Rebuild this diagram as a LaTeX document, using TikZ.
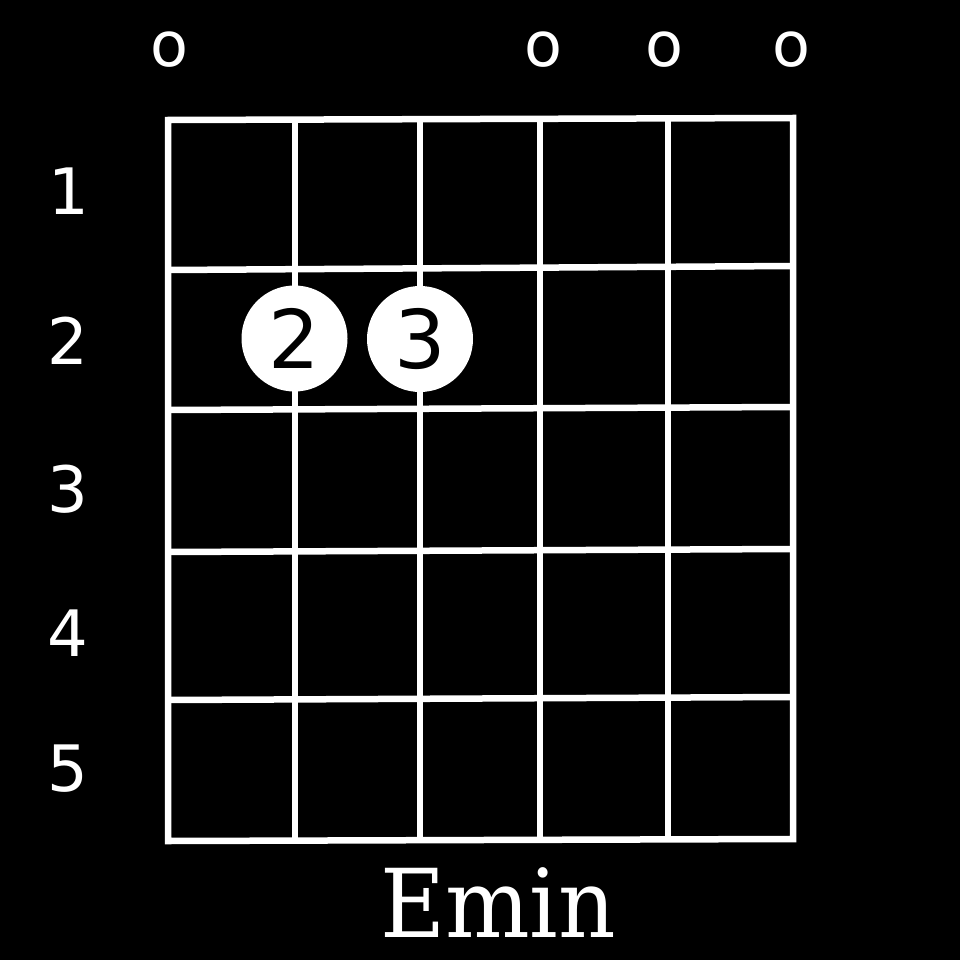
\documentclass[tikz,border=0pt]{standalone}
\usepackage{fontspec}
\setmainfont{DejaVu Sans}
\newfontfamily\chordfont{DejaVu Serif}
\begin{document}
\begin{tikzpicture}[x=1pt,y=-1pt,
  gridline/.style={white, line width=6.5pt},
  fretlabel/.style={text=white, font=\fontsize{64}{64}\selectfont, inner sep=0pt},
  openmark/.style={text=white, font=\fontsize{62}{62}\selectfont, inner sep=0pt},
  finger/.style={circle, fill=white, minimum size=106pt, inner sep=0pt, text=black, font=\fontsize{81}{81}\selectfont},
  chordname/.style={text=white, font=\chordfont\fontsize{95}{95}\selectfont, inner sep=0pt, anchor=base, xscale=0.94},
]
\fill[black] (0,0) rectangle (960,960);
\useasboundingbox (0,0) rectangle (960,960);
% frets
\draw[gridline] (168,270) -- (793,266);
\draw[gridline] (168,410) -- (793,407);
\draw[gridline] (168,552) -- (793,549);
\draw[gridline] (168,700) -- (793,697);
% strings
\draw[gridline] (295,120) -- (295,840);
\draw[gridline] (420,119) -- (420,840);
\draw[gridline] (540,119) -- (540,840);
\draw[gridline] (668,118) -- (668,839);
% outline
\draw[gridline, line join=miter] (168,120) -- (793,118) -- (793,839) -- (168,841) -- cycle;
% fingers
\node[finger] (f2) at (294.5,338.5) {2};
\node[finger] (f3) at (420,339) {3};
% open strings
\node[openmark] (o1) at (169,49.5) {o};
\node[openmark] (o4) at (543,49.5) {o};
\node[openmark] (o5) at (664,49.5) {o};
\node[openmark] (o6) at (791,49.5) {o};
% fret numbers
\node[fretlabel] (n1) at (69,191.5) {1};
\node[fretlabel] (n2) at (68,341) {2};
\node[fretlabel] (n3) at (68,489) {3};
\node[fretlabel] (n4) at (68,633) {4};
\node[fretlabel] (n5) at (68,769) {5};
% chord name
\node[chordname] (name) at (498,937) {Emin};
\end{tikzpicture}
\end{document}
